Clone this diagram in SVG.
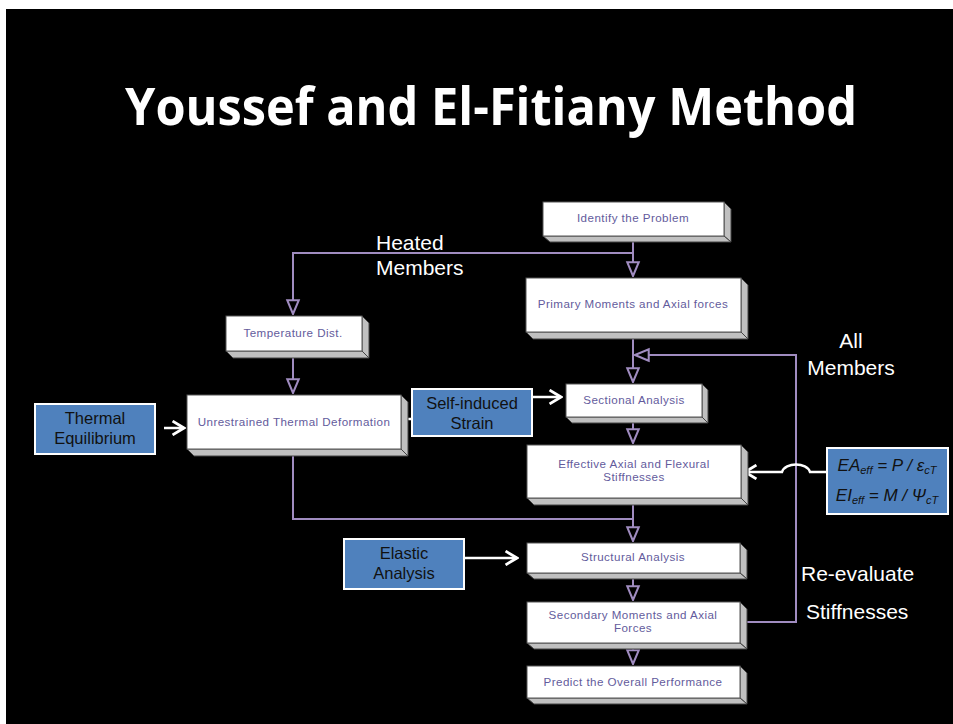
<svg xmlns="http://www.w3.org/2000/svg" width="953" height="724" viewBox="0 0 953 724">
<style>
.face{fill:#ffffff;stroke:#555555;stroke-width:1}
.side{fill:#c0c0c0;stroke:#444444;stroke-width:1;stroke-linejoin:round}
.bt{font-family:"Liberation Sans",Arial,sans-serif;font-size:11.6px;letter-spacing:0.45px;fill:#635b9c;text-anchor:middle}
.blue{fill:#4f81bd;stroke:#ffffff;stroke-width:2}
.blt{font-family:"Liberation Sans",Arial,sans-serif;font-size:16.5px;fill:#111111;text-anchor:middle}
.lbl{font-family:"Liberation Sans",Arial,sans-serif;font-size:21px;fill:#ffffff}
.pl{fill:none;stroke:#a08cc0;stroke-width:2}
.wl{fill:none;stroke:#ffffff;stroke-width:2.5}
.fm{font-family:"Liberation Sans",Arial,sans-serif;font-size:17px;font-style:italic;fill:#111111}
</style>
<defs>
<marker id="tri" markerUnits="userSpaceOnUse" markerWidth="16" markerHeight="16" viewBox="0 0 14 12" refX="13" refY="6" orient="auto">
<path d="M1,1 L13,6 L1,11 Z" fill="#000000" stroke="#a08cc0" stroke-width="1.8"/>
</marker>
<marker id="chev" markerUnits="userSpaceOnUse" markerWidth="16" markerHeight="16" viewBox="0 0 12 14" refX="11" refY="7" orient="auto">
<path d="M1,1 L11,7 L1,13" fill="none" stroke="#ffffff" stroke-width="2.5" stroke-linejoin="miter"/>
</marker>
</defs>
<rect x="0" y="0" width="953" height="724" fill="#ffffff"/>
<rect x="6" y="9" width="947" height="715" fill="#000000"/>
<text x="491" y="125" font-family="'Open Sans','Liberation Sans',sans-serif" font-weight="bold" font-size="52" fill="#ffffff" text-anchor="middle" textLength="732" lengthAdjust="spacingAndGlyphs">Youssef and El-Fitiany Method</text>

<g id="connectors">
<path class="pl" d="M633,236 V276" marker-end="url(#tri)"/>
<path class="pl" d="M633,253 H293 V314" marker-end="url(#tri)"/>
<path class="pl" d="M293,351 V393" marker-end="url(#tri)"/>
<path class="pl" d="M633,332 V382" marker-end="url(#tri)"/>
<path class="pl" d="M741,622 H796 V355 H635" marker-end="url(#tri)"/>
<path class="pl" d="M633,417 V443" marker-end="url(#tri)"/>
<path class="pl" d="M293,449 V519 H633"/>
<path class="pl" d="M633,498 V541" marker-end="url(#tri)"/>
<path class="pl" d="M633,573 V600" marker-end="url(#tri)"/>
<path class="pl" d="M633,643 V664" marker-end="url(#tri)"/>
<path class="wl" d="M164,428 H184" marker-end="url(#chev)"/>
<path class="wl" d="M401,419 H412"/>
<path class="wl" d="M532,397 H561" marker-end="url(#chev)"/>
<path class="wl" d="M827,472 H810 C807,462 785,462 782,472 H745" marker-end="url(#chev)"/>
<path class="wl" d="M464,558 H517" marker-end="url(#chev)"/>
</g>

<g id="n-identify">
<polygon class="side" points="724,202 731,209 731,242 724,236"/>
<polygon class="side" points="543,236 724,236 731,242 550,242"/>
<rect class="face" x="543" y="202" width="181" height="34"/>
<text class="bt" x="633" y="222">Identify the Problem</text>
</g>
<g id="n-primary">
<polygon class="side" points="741,278 748,285 748,339 741,332"/>
<polygon class="side" points="526,332 741,332 748,339 533,339"/>
<rect class="face" x="526" y="278" width="215" height="54"/>
<text class="bt" x="633" y="308">Primary Moments and Axial forces</text>
</g>
<g id="n-temp">
<polygon class="side" points="362,316 369,323 369,358 362,351"/>
<polygon class="side" points="226,351 362,351 369,358 233,358"/>
<rect class="face" x="226" y="316" width="136" height="35"/>
<text class="bt" x="293" y="337">Temperature Dist.</text>
</g>
<g id="n-unrestrained">
<polygon class="side" points="401,395 408,402 408,456 401,449"/>
<polygon class="side" points="187,449 401,449 408,456 194,456"/>
<rect class="face" x="187" y="395" width="214" height="54"/>
<text class="bt" x="294" y="426">Unrestrained Thermal Deformation</text>
</g>
<g id="n-sectional">
<polygon class="side" points="702,384 708,390 708,423 702,417"/>
<polygon class="side" points="566,417 702,417 708,423 572,423"/>
<rect class="face" x="566" y="384" width="136" height="33"/>
<text class="bt" x="634" y="404">Sectional Analysis</text>
</g>
<g id="n-effective">
<polygon class="side" points="741,445 748,452 748,505 741,498"/>
<polygon class="side" points="527,498 741,498 748,505 534,505"/>
<rect class="face" x="527" y="445" width="214" height="53"/>
<text class="bt" x="634" y="468">Effective Axial and Flexural</text>
<text class="bt" x="634" y="481">Stiffnesses</text>
</g>
<g id="n-structural">
<polygon class="side" points="740,543 747,550 747,579 740,573"/>
<polygon class="side" points="527,573 740,573 747,579 534,579"/>
<rect class="face" x="527" y="543" width="213" height="30"/>
<text class="bt" x="633" y="561">Structural Analysis</text>
</g>
<g id="n-secondary">
<polygon class="side" points="740,602 747,609 747,649 740,643"/>
<polygon class="side" points="527,643 740,643 747,649 534,649"/>
<rect class="face" x="527" y="602" width="213" height="41"/>
<text class="bt" x="633" y="619">Secondary Moments and Axial</text>
<text class="bt" x="633" y="632">Forces</text>
</g>
<g id="n-predict">
<polygon class="side" points="740,666 747,673 747,704 740,698"/>
<polygon class="side" points="527,698 740,698 747,704 534,704"/>
<rect class="face" x="527" y="666" width="213" height="32"/>
<text class="bt" x="633" y="686">Predict the Overall Performance</text>
</g>

<g id="n-thermal-eq">
<rect class="blue" x="35" y="404" width="120" height="50"/>
<text class="blt" x="95" y="424">Thermal</text>
<text class="blt" x="95" y="444">Equilibrium</text>
</g>
<g id="n-self-induced">
<rect class="blue" x="412" y="389" width="120" height="47"/>
<text class="blt" x="472" y="409">Self-induced</text>
<text class="blt" x="472" y="429">Strain</text>
</g>
<g id="n-elastic">
<rect class="blue" x="344" y="539" width="120" height="50"/>
<text class="blt" x="404" y="559">Elastic</text>
<text class="blt" x="404" y="579">Analysis</text>
</g>
<g id="n-formula">
<rect class="blue" x="827" y="448" width="121" height="66"/>
<text class="fm" x="887" y="471" text-anchor="middle">EA<tspan font-size="11" dy="3">eff</tspan><tspan dy="-3"> = P / ε</tspan><tspan font-size="11" dy="3">cT</tspan></text>
<text class="fm" x="887" y="501" text-anchor="middle">EI<tspan font-size="11" dy="3">eff</tspan><tspan dy="-3"> = M / Ψ</tspan><tspan font-size="11" dy="3">cT</tspan></text>
</g>

<g id="labels">
<text class="lbl" x="376" y="250">Heated</text>
<text class="lbl" x="376" y="275">Members</text>
<text class="lbl" x="851" y="348" text-anchor="middle">All</text>
<text class="lbl" x="851" y="375" text-anchor="middle">Members</text>
<text class="lbl" x="801" y="581">Re-evaluate</text>
<text class="lbl" x="806" y="619">Stiffnesses</text>
</g>
</svg>
